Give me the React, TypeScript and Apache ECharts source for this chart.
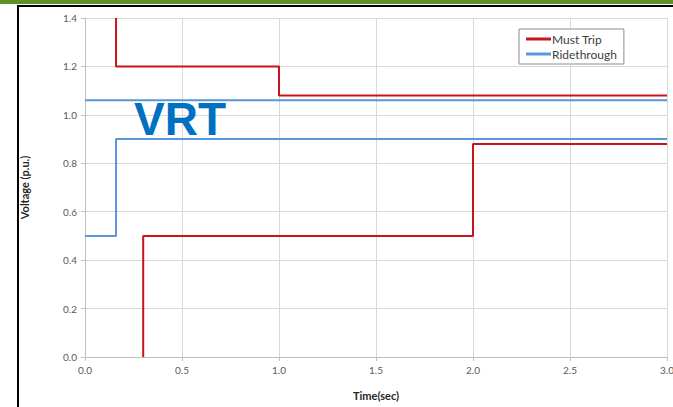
import React, { useEffect, useRef } from "react";
import * as echarts from "echarts";

const xTicks = [0, 0.5, 1.0, 1.5, 2.0, 2.5, 3.0];
const yTicks = [0, 0.2, 0.4, 0.6, 0.8, 1.0, 1.2, 1.4];

const mustTripUpperT = [0.16, 0.16, 1.0, 1.0, 3.0];
const mustTripUpperV = [1.4, 1.2, 1.2, 1.08, 1.08];
const mustTripLowerT = [0.3, 0.3, 2.0, 2.0, 3.0];
const mustTripLowerV = [0, 0.5, 0.5, 0.88, 0.88];
const rideUpperT = [0, 3.0];
const rideUpperV = [1.06, 1.06];
const rideLowerT = [0, 0.16, 0.16, 3.0];
const rideLowerV = [0.5, 0.5, 0.9, 0.9];

const RED = "#C8141B";
const BLUE = "#5A96DA";
const FONT = "Lato, 'Liberation Sans', sans-serif";

const pairs = (t: number[], v: number[]) => t.map((x, i) => [x, v[i]]);

export default function App() {
  const ref = useRef<HTMLDivElement>(null);
  useEffect(() => {
    if (!ref.current) return;
    const chart = echarts.init(ref.current, null, { renderer: "svg" });
    const lineSeries = (name: string, data: number[][], color: string) => ({
      type: "line",
      name,
      data,
      symbol: "none",
      lineStyle: { color, width: 2 },
      itemStyle: { color },
      z: 3,
    });
    chart.setOption({
      animation: false,
      backgroundColor: "#ffffff",
      grid: { left: 85, right: 6, top: 18, bottom: 50, containLabel: false, outerBoundsMode: "none" },
      xAxis: {
        type: "value",
        min: 0,
        max: 3,
        interval: 0.5,
        name: "Time(sec)",
        nameLocation: "middle",
        nameGap: 33,
        nameTextStyle: { fontFamily: FONT, fontWeight: "bold", fontSize: 11, color: "#262626" },
        axisLine: { show: true, lineStyle: { color: "#BFBFBF" } },
        axisTick: { show: true, length: 4, lineStyle: { color: "#BFBFBF" } },
        axisLabel: {
          fontFamily: FONT,
          fontSize: 10,
          color: "#595959",
          margin: 8,
          hideOverlap: false,
          formatter: (v: number) => v.toFixed(1),
        },
        splitLine: { show: true, lineStyle: { color: "#D9D9D9" } },
      },
      yAxis: {
        type: "value",
        min: 0,
        max: 1.4,
        interval: 0.2,
        name: "Voltage (p.u.)",
        nameLocation: "middle",
        nameGap: 55,
        nameTextStyle: { fontFamily: FONT, fontWeight: "bold", fontSize: 11, color: "#262626" },
        axisLine: { show: true, lineStyle: { color: "#BFBFBF" } },
        axisTick: { show: true, length: 4, lineStyle: { color: "#BFBFBF" } },
        axisLabel: {
          fontFamily: FONT,
          fontSize: 10,
          color: "#595959",
          margin: 8,
          formatter: (v: number) => v.toFixed(1),
        },
        splitLine: { show: true, lineStyle: { color: "#D9D9D9" } },
      },
      legend: {
        data: ["Must Trip", "Ridethrough"],
        orient: "vertical",
        left: 519,
        top: 29,
        backgroundColor: "#ffffff",
        borderColor: "#8C8C8C",
        borderWidth: 1,
        padding: [4, 7, 4, 7],
        itemGap: 3,
        itemWidth: 25,
        itemHeight: 3,
        icon: "rect",
        textStyle: { fontFamily: FONT, fontSize: 12, color: "#404040", padding: [0, 0, 0, -4] },
      },
      graphic: [
        { type: "rect", shape: { x: 0, y: 0, width: 673, height: 4 }, style: { fill: "#5E9129" }, z: 10 },
        { type: "line", shape: { x1: 17, y1: 6, x2: 673, y2: 6 }, style: { stroke: "#000000", lineWidth: 2 }, z: 10 },
        { type: "line", shape: { x1: 18, y1: 5, x2: 18, y2: 407 }, style: { stroke: "#000000", lineWidth: 2 }, z: 10 },
        {
          type: "text",
          left: 134,
          top: 96,
          style: {
            text: "VRT",
            fill: "#0070C0",
            font: "bold 46px 'Liberation Sans', Arial, sans-serif",
          },
          z: 5,
        },
      ],
      series: [
        lineSeries("Must Trip", pairs(mustTripUpperT, mustTripUpperV), RED),
        lineSeries("Must Trip", pairs(mustTripLowerT, mustTripLowerV), RED),
        lineSeries("Ridethrough", pairs(rideUpperT, rideUpperV), BLUE),
        lineSeries("Ridethrough", pairs(rideLowerT, rideLowerV), BLUE),
      ],
    });
    return () => chart.dispose();
  }, []);
  return (
    <div
      ref={ref}
      style={{ position: "fixed", left: 0, top: 0, width: 673, height: 407, background: "#fff" }}
    />
  );
}
